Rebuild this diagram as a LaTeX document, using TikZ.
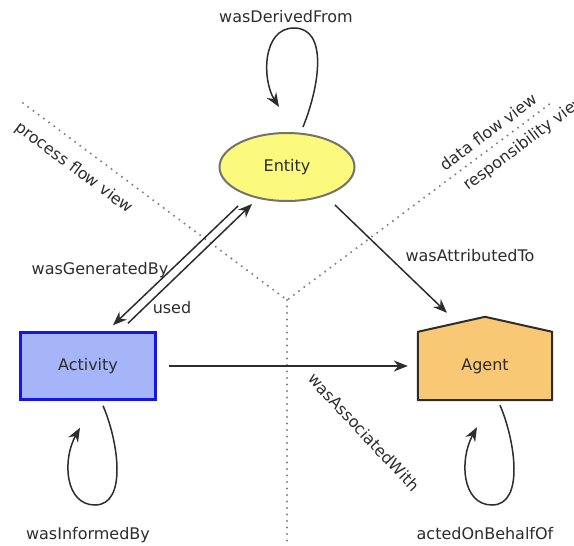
\documentclass[tikz,border=0pt]{standalone}
\usepackage{fontspec}
\setmainfont{DejaVu Sans}
\usepackage{xcolor}
\usetikzlibrary{positioning}
\usetikzlibrary{shapes}
\usetikzlibrary{arrows.meta}
\usetikzlibrary{calc}
\usetikzlibrary{backgrounds}
\definecolor{inkgray}{RGB}{45,45,45}
\definecolor{dotgray}{RGB}{128,128,128}
\definecolor{entityfill}{RGB}{252,250,125}
\definecolor{entityline}{RGB}{115,115,105}
\definecolor{actfill}{RGB}{166,180,248}
\definecolor{actline}{RGB}{20,20,235}
\definecolor{agentfill}{RGB}{249,200,116}
\tikzset{
	rel/.style={draw=inkgray, line width=1.5pt, -{Stealth[length=14pt,width=11pt]}},
	viewline/.style={draw=dotgray, line width=2.3pt, line cap=round, dash pattern=on 0pt off 6.5pt},
	lbl/.style={text=inkgray},
}

\begin{document}
\begin{tikzpicture}[x=1pt, y=-1pt, font=\fontsize{16}{19}\selectfont]
		\useasboundingbox (0,0) rectangle (574,546);
		
		% views
		\coordinate (hub) at (287,300);
		\coordinate (pflow) at (23,103);
		\coordinate (rflow) at (551,103);
		\coordinate (foot) at (287,546);
		\draw[viewline] (pflow) -- (hub) -- (rflow);
		\draw[viewline] (hub) -- (foot);
		\node[lbl, rotate=-36.7] (pfv) at (74,168) {process flow view};
		\node[lbl, rotate=36.7] (dfv) at (488,132) {data flow view};
		\node[lbl, rotate=36.7] (rv) at (525,143) {responsibility view};
		
		% classes
		\node[ellipse, draw=entityline, line width=2pt, fill=entityfill, text=inkgray, minimum width=135pt, minimum height=68pt] (entity) at (287,167) {Entity};
		\node[draw=actline, line width=2.5pt, fill=actfill, text=inkgray, minimum width=135pt, minimum height=67pt] (activity) at (88,366) {Activity};
		\node[text=inkgray, minimum width=134pt, minimum height=68pt, inner sep=0pt] (agent) at (485,366) {Agent};
		\begin{scope}[on background layer]
			\fill[white] (0,0) rectangle (574,546);
			\draw[draw=inkgray, line width=2pt, fill=agentfill, line join=round] (agent.south west) -- (agent.north west) -- ($(agent.north)+(0,-15)$) -- (agent.north east) -- (agent.south east) -- cycle;
		\end{scope}
		
		% relations
		\draw[rel] ($(entity.north)+(16,-5)$) .. controls (320,85) and (328,28) .. (294,28) .. controls (262,28) and (262,80) .. ($(entity.north)+(-8,-25)$);
		\node[lbl] (derived) at (286,17) {wasDerivedFrom};
		
		\draw[rel] ($(entity.south)+(-49,4)$) -- ($(activity.north)+(25,-6)$);
		\draw[rel] ($(activity.north)+(40,-8)$) -- ($(entity.south)+(-35,2)$);
		\node[lbl] (generated) at (100,270) {wasGeneratedBy};
		\node[lbl] (used) at (172,308) {used};
		
		\draw[rel] ($(entity.south)+(48,3)$) -- ($(agent.north)+(-38,-19)$);
		\node[lbl] (attributed) at (470,256) {wasAttributedTo};
		
		\draw[rel, shorten <=12pt, shorten >=10pt] (activity) -- (agent);
		\node[lbl, rotate=-47] (associated) at (364,432) {wasAssociatedWith};
		
		\draw[rel] ($(activity.south)+(15,5)$) .. controls (118,440) and (128,505) .. (95,505) .. controls (65,505) and (62,460) .. ($(activity.south)+(-8,27)$);
		\node[lbl] (informed) at (88,535) {wasInformedBy};
		
		\draw[rel] ($(agent.south)+(15,5)$) .. controls (515,440) and (525,505) .. (492,505) .. controls (462,505) and (459,460) .. ($(agent.south)+(-8,27)$);
		\node[lbl] (behalf) at (485,534) {actedOnBehalfOf};
	\end{tikzpicture}
\end{document}
